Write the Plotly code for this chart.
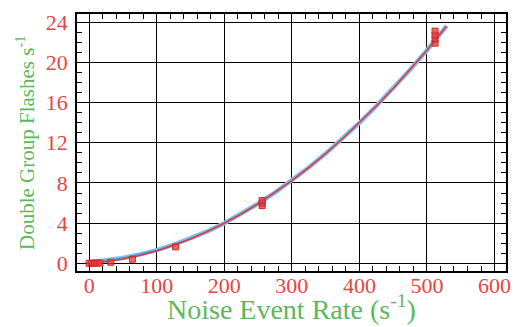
import plotly.graph_objects as go

# Measured double-group flash rate versus injected noise event rate
rate_pts = [0, 4, 8, 12, 16, 32, 64, 128, 256, 256, 256, 512, 512, 512, 512]
flash_pts = [0.02, 0.03, 0.03, 0.04, 0.05, 0.12, 0.42, 1.65, 5.75, 6.0, 6.25, 21.9, 22.3, 22.7, 23.1]

# Fitted curves
fit_x = [0, 25, 50, 75, 100, 125, 150, 175, 200, 225, 250, 275, 300, 325,
         350, 375, 400, 425, 450, 475, 500, 529]
fit_red = [0.0, 0.17, 0.44, 0.80, 1.24, 1.80, 2.44, 3.17, 4.0, 4.92, 5.94, 7.05,
           8.24, 9.54, 10.92, 12.4, 13.98, 15.65, 17.4, 19.26, 21.2, 23.6]
fit_blue = [0.1, 0.28, 0.55, 0.90, 1.32, 1.86, 2.48, 3.19, 4.0, 4.92, 5.94, 7.05,
            8.24, 9.54, 10.92, 12.4, 13.98, 15.65, 17.4, 19.26, 21.2, 23.6]

x_ticks = [0, 100, 200, 300, 400, 500, 600]
y_ticks = [0, 4, 8, 12, 16, 20, 24]

RED = "#e64545"
GREEN = "#5cb85c"
FONT = "Liberation Serif"

fig = go.Figure()
fig.add_trace(go.Scatter(x=fit_x, y=fit_blue, mode="lines",
                         line=dict(color="#7cc0ef", width=4.5), hoverinfo="skip"))
fig.add_trace(go.Scatter(x=fit_x, y=fit_blue, mode="lines",
                         line=dict(color="#3f8fd8", width=1), hoverinfo="skip"))
fig.add_trace(go.Scatter(x=fit_x, y=fit_red, mode="lines",
                         line=dict(color="#e23a3a", width=1.6), hoverinfo="skip"))
fig.add_trace(go.Scatter(x=rate_pts, y=flash_pts, mode="markers",
                         marker=dict(symbol="square", size=6, color="rgba(226,60,60,0.75)",
                                     line=dict(color="#d02828", width=1))))

axis_common = dict(
    showline=True, mirror="allticks", linecolor="black", linewidth=1.5,
    showgrid=True, gridcolor="black", gridwidth=1, zeroline=False,
    ticks="inside", ticklen=6, tickcolor="black", tickwidth=1,
    tickfont=dict(family=FONT, size=22, color=RED),
)

fig.update_xaxes(range=[-18, 617], tickvals=x_ticks, ticklabelstandoff=-6,
                 minor=dict(dtick=20, tick0=0, ticks="inside", ticklen=5,
                            tickcolor="black", showgrid=False),
                 **axis_common)
fig.update_yaxes(range=[-0.75, 24.8], tickvals=y_ticks, ticklabelstandoff=3,
                 minor=dict(dtick=1, tick0=0, ticks="inside", ticklen=5,
                            tickcolor="black", showgrid=False),
                 **axis_common)

fig.add_annotation(text="Noise Event Rate (s<sup>-1</sup>)", xref="paper", yref="paper",
                   x=0.5, y=-0.065, xanchor="center", yanchor="top", showarrow=False,
                   font=dict(family=FONT, size=28, color=GREEN))
fig.add_annotation(text="Double Group Flashes s<sup>-1</sup>", xref="paper", yref="paper",
                   x=-0.12, y=0.5, xanchor="center", yanchor="middle", textangle=-90,
                   showarrow=False, font=dict(family=FONT, size=21, color=GREEN))

fig.update_layout(width=521, height=327, margin=dict(l=77, r=12, t=10, b=56),
                  paper_bgcolor="white", plot_bgcolor="white", showlegend=False)

fig.write_html("out.html")
